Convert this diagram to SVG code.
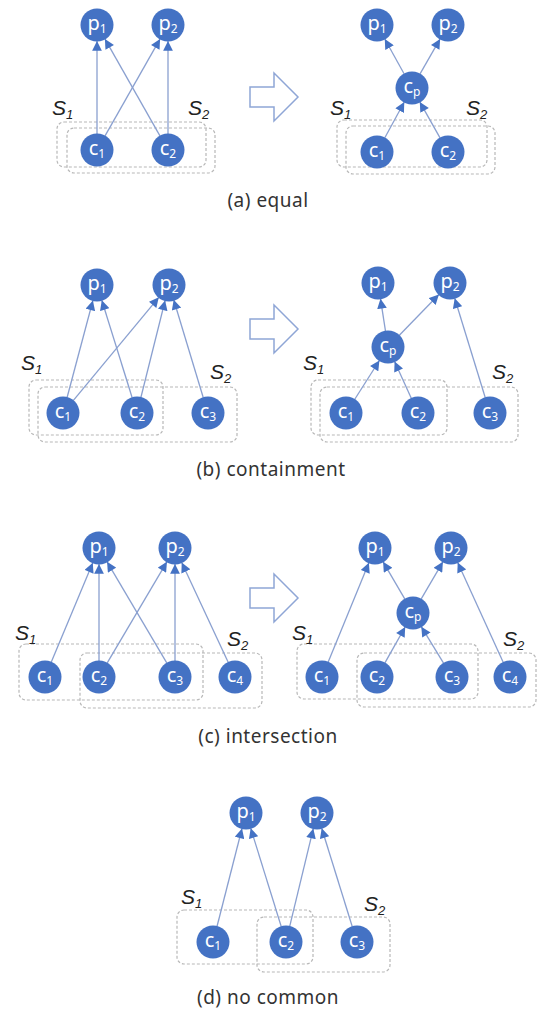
<svg xmlns="http://www.w3.org/2000/svg" width="538" height="1015" viewBox="0 0 538 1015">
  <style>
    .set { fill: none; stroke: #b8b8b8; stroke-width: 1.2; stroke-dasharray: 3 2; }
    .edge { stroke: #8aa0d0; stroke-width: 1.3; fill: none; marker-end: url(#tip); }
    .node circle { fill: #4472c4; }
    .node text { fill: #ffffff; font-family: "Noto Sans", "Open Sans", sans-serif; font-size: 20px; text-anchor: middle; }
    .node tspan { font-size: 12px; }
    .slabel { fill: #222222; font-family: "Liberation Sans", Arial, sans-serif; font-style: italic; font-size: 21px; }
    .slabel tspan { font-size: 13px; }
    .caption { fill: #333333; font-family: "Noto Sans", "Open Sans", sans-serif; font-size: 19px; letter-spacing: 0.5px; text-anchor: middle; }
    .step { fill: #ffffff; stroke: #8fa6d6; stroke-width: 1.5; stroke-linejoin: miter; }
  </style>
  <defs>
    <marker id="tip" viewBox="0 0 10 10" refX="10" refY="5" markerWidth="8" markerHeight="7.5" markerUnits="strokeWidth" orient="auto">
      <path d="M0,0 L10,5 L0,10 Z" fill="#4472c4"/>
    </marker>
  </defs>

  <!-- set outlines S1 / S2 -->
  <g id="sets">
    <rect class="set" x="57" y="122" width="149" height="45" rx="7"/>
    <rect class="set" x="67" y="128" width="148" height="45" rx="7"/>
    <rect class="set" x="337" y="120" width="150" height="47" rx="7"/>
    <rect class="set" x="346" y="126" width="149" height="48" rx="7"/>

    <rect class="set" x="29" y="380" width="134" height="55" rx="7"/>
    <rect class="set" x="38" y="387" width="199" height="55" rx="7"/>
    <rect class="set" x="311" y="380" width="136" height="55" rx="7"/>
    <rect class="set" x="320" y="387" width="198" height="55" rx="7"/>

    <rect class="set" x="19" y="644" width="184" height="56" rx="7"/>
    <rect class="set" x="80" y="653" width="182" height="55" rx="7"/>
    <rect class="set" x="297" y="644" width="181" height="55" rx="7"/>
    <rect class="set" x="357" y="653" width="179" height="54" rx="7"/>

    <rect class="set" x="177" y="910" width="136" height="54" rx="7"/>
    <rect class="set" x="257" y="917" width="133" height="55" rx="7"/>
  </g>

  <!-- set names -->
  <g id="set-labels">
    <text class="slabel" x="52" y="115">S<tspan dy="4">1</tspan></text>
    <text class="slabel" x="188" y="115">S<tspan dy="4">2</tspan></text>
    <text class="slabel" x="330" y="115">S<tspan dy="4">1</tspan></text>
    <text class="slabel" x="466" y="115">S<tspan dy="4">2</tspan></text>

    <text class="slabel" x="21" y="370">S<tspan dy="4">1</tspan></text>
    <text class="slabel" x="210" y="379">S<tspan dy="4">2</tspan></text>
    <text class="slabel" x="303" y="370">S<tspan dy="4">1</tspan></text>
    <text class="slabel" x="492" y="379">S<tspan dy="4">2</tspan></text>

    <text class="slabel" x="15" y="640">S<tspan dy="4">1</tspan></text>
    <text class="slabel" x="227" y="646">S<tspan dy="4">2</tspan></text>
    <text class="slabel" x="292" y="640">S<tspan dy="4">1</tspan></text>
    <text class="slabel" x="503" y="646">S<tspan dy="4">2</tspan></text>

    <text class="slabel" x="181" y="904">S<tspan dy="4">1</tspan></text>
    <text class="slabel" x="364" y="911">S<tspan dy="4">2</tspan></text>
  </g>

  <!-- transformation arrows -->
  <g id="steps">
    <path class="step" d="M250,87 H274 V73 L298,97 L274,121 V107 H250 Z"/>
    <path class="step" d="M250,319 H274 V305 L298,329 L274,353 V339 H250 Z"/>
    <path class="step" d="M250,588 H274 V574 L298,598 L274,622 V608 H250 Z"/>
  </g>

  <!-- connectors -->
  <g id="connectors">
    <!-- (a) before -->
    <line class="edge" x1="97" y1="134" x2="97" y2="41"/>
    <line class="edge" x1="104.9" y1="136.1" x2="160.1" y2="38.9"/>
    <line class="edge" x1="160.1" y1="136.1" x2="104.9" y2="38.9"/>
    <line class="edge" x1="168" y1="134" x2="168" y2="41"/>
    <!-- (a) after -->
    <line class="edge" x1="384.7" y1="138" x2="404.3" y2="102"/>
    <line class="edge" x1="440.2" y1="138.1" x2="419.8" y2="101.9"/>
    <line class="edge" x1="404.2" y1="74" x2="384.8" y2="39"/>
    <line class="edge" x1="419.9" y1="74.1" x2="440.1" y2="38.9"/>

    <!-- (b) before -->
    <line class="edge" x1="67.1" y1="397.5" x2="92.9" y2="300.5"/>
    <line class="edge" x1="73.2" y1="400.7" x2="158.8" y2="297.3"/>
    <line class="edge" x1="132.2" y1="397.7" x2="101.8" y2="300.3"/>
    <line class="edge" x1="140.9" y1="397.5" x2="165.1" y2="300.5"/>
    <line class="edge" x1="203.3" y1="397.7" x2="173.7" y2="299.7"/>
    <!-- (b) after -->
    <line class="edge" x1="354.6" y1="399.5" x2="379.4" y2="360.5"/>
    <line class="edge" x1="411.4" y1="398.4" x2="394.6" y2="361.6"/>
    <line class="edge" x1="385.5" y1="331.2" x2="380.5" y2="298.8"/>
    <line class="edge" x1="399.1" y1="335.5" x2="438.9" y2="294.5"/>
    <line class="edge" x1="485.3" y1="397.7" x2="454.7" y2="298.3"/>

    <!-- (c) before -->
    <line class="edge" x1="51.2" y1="662.2" x2="92.8" y2="562.8"/>
    <line class="edge" x1="99" y1="661" x2="99" y2="564"/>
    <line class="edge" x1="107.1" y1="663.2" x2="166.9" y2="561.8"/>
    <line class="edge" x1="166.9" y1="663.2" x2="107.1" y2="561.8"/>
    <line class="edge" x1="175" y1="661" x2="175" y2="564"/>
    <line class="edge" x1="228.3" y1="662.5" x2="181.7" y2="562.5"/>
    <!-- (c) after -->
    <line class="edge" x1="328.1" y1="662.2" x2="368.9" y2="562.8"/>
    <line class="edge" x1="404.9" y1="599.2" x2="383.1" y2="561.8"/>
    <line class="edge" x1="421.1" y1="599.2" x2="442.9" y2="561.8"/>
    <line class="edge" x1="384.8" y1="663.1" x2="405.2" y2="626.9"/>
    <line class="edge" x1="443.7" y1="663.3" x2="421.3" y2="626.7"/>
    <line class="edge" x1="503.3" y1="662.4" x2="457.7" y2="562.6"/>

    <!-- (d) -->
    <line class="edge" x1="217" y1="926.5" x2="242" y2="828.5"/>
    <line class="edge" x1="281.3" y1="926.7" x2="250.7" y2="828.3"/>
    <line class="edge" x1="289.7" y1="926.4" x2="313.3" y2="828.6"/>
    <line class="edge" x1="352.3" y1="926.7" x2="321.7" y2="828.3"/>
  </g>

  <!-- (a) equal -->
  <g id="a-p1" class="node"><circle cx="97" cy="25" r="16.5"/><text x="97" y="30">p<tspan dy="3">1</tspan></text></g>
  <g id="a-p2" class="node"><circle cx="168" cy="25" r="16.5"/><text x="168" y="30">p<tspan dy="3">2</tspan></text></g>
  <g id="a-c1" class="node"><circle cx="97" cy="150" r="16.5"/><text x="97" y="155">c<tspan dy="3">1</tspan></text></g>
  <g id="a-c2" class="node"><circle cx="168" cy="150" r="16.5"/><text x="168" y="155">c<tspan dy="3">2</tspan></text></g>
  <g id="a2-p1" class="node"><circle cx="377" cy="25" r="16.5"/><text x="377" y="30">p<tspan dy="3">1</tspan></text></g>
  <g id="a2-p2" class="node"><circle cx="448" cy="25" r="16.5"/><text x="448" y="30">p<tspan dy="3">2</tspan></text></g>
  <g id="a2-cp" class="node"><circle cx="412" cy="88" r="16.5"/><text x="412" y="93">c<tspan dy="3">p</tspan></text></g>
  <g id="a2-c1" class="node"><circle cx="377" cy="152" r="16.5"/><text x="377" y="157">c<tspan dy="3">1</tspan></text></g>
  <g id="a2-c2" class="node"><circle cx="448" cy="152" r="16.5"/><text x="448" y="157">c<tspan dy="3">2</tspan></text></g>

  <!-- (b) containment -->
  <g id="b-p1" class="node"><circle cx="97" cy="285" r="16.5"/><text x="97" y="290">p<tspan dy="3">1</tspan></text></g>
  <g id="b-p2" class="node"><circle cx="169" cy="285" r="16.5"/><text x="169" y="290">p<tspan dy="3">2</tspan></text></g>
  <g id="b-c1" class="node"><circle cx="63" cy="413" r="16.5"/><text x="63" y="418">c<tspan dy="3">1</tspan></text></g>
  <g id="b-c2" class="node"><circle cx="137" cy="413" r="16.5"/><text x="137" y="418">c<tspan dy="3">2</tspan></text></g>
  <g id="b-c3" class="node"><circle cx="208" cy="413" r="16.5"/><text x="208" y="418">c<tspan dy="3">3</tspan></text></g>
  <g id="b2-p1" class="node"><circle cx="378" cy="283" r="16.5"/><text x="378" y="288">p<tspan dy="3">1</tspan></text></g>
  <g id="b2-p2" class="node"><circle cx="450" cy="283" r="16.5"/><text x="450" y="288">p<tspan dy="3">2</tspan></text></g>
  <g id="b2-cp" class="node"><circle cx="388" cy="347" r="16.5"/><text x="388" y="352">c<tspan dy="3">p</tspan></text></g>
  <g id="b2-c1" class="node"><circle cx="346" cy="413" r="16.5"/><text x="346" y="418">c<tspan dy="3">1</tspan></text></g>
  <g id="b2-c2" class="node"><circle cx="418" cy="413" r="16.5"/><text x="418" y="418">c<tspan dy="3">2</tspan></text></g>
  <g id="b2-c3" class="node"><circle cx="490" cy="413" r="16.5"/><text x="490" y="418">c<tspan dy="3">3</tspan></text></g>

  <!-- (c) intersection -->
  <g id="c-p1" class="node"><circle cx="99" cy="548" r="16.5"/><text x="99" y="553">p<tspan dy="3">1</tspan></text></g>
  <g id="c-p2" class="node"><circle cx="175" cy="548" r="16.5"/><text x="175" y="553">p<tspan dy="3">2</tspan></text></g>
  <g id="c-c1" class="node"><circle cx="45" cy="677" r="16.5"/><text x="45" y="682">c<tspan dy="3">1</tspan></text></g>
  <g id="c-c2" class="node"><circle cx="99" cy="677" r="16.5"/><text x="99" y="682">c<tspan dy="3">2</tspan></text></g>
  <g id="c-c3" class="node"><circle cx="175" cy="677" r="16.5"/><text x="175" y="682">c<tspan dy="3">3</tspan></text></g>
  <g id="c-c4" class="node"><circle cx="235" cy="677" r="16.5"/><text x="235" y="682">c<tspan dy="3">4</tspan></text></g>
  <g id="c2-p1" class="node"><circle cx="375" cy="548" r="16.5"/><text x="375" y="553">p<tspan dy="3">1</tspan></text></g>
  <g id="c2-p2" class="node"><circle cx="451" cy="548" r="16.5"/><text x="451" y="553">p<tspan dy="3">2</tspan></text></g>
  <g id="c2-cp" class="node"><circle cx="413" cy="613" r="16.5"/><text x="413" y="618">c<tspan dy="3">p</tspan></text></g>
  <g id="c2-c1" class="node"><circle cx="322" cy="677" r="16.5"/><text x="322" y="682">c<tspan dy="3">1</tspan></text></g>
  <g id="c2-c2" class="node"><circle cx="377" cy="677" r="16.5"/><text x="377" y="682">c<tspan dy="3">2</tspan></text></g>
  <g id="c2-c3" class="node"><circle cx="452" cy="677" r="16.5"/><text x="452" y="682">c<tspan dy="3">3</tspan></text></g>
  <g id="c2-c4" class="node"><circle cx="510" cy="677" r="16.5"/><text x="510" y="682">c<tspan dy="3">4</tspan></text></g>

  <!-- (d) no common -->
  <g id="d-p1" class="node"><circle cx="246" cy="813" r="16.5"/><text x="246" y="818">p<tspan dy="3">1</tspan></text></g>
  <g id="d-p2" class="node"><circle cx="317" cy="813" r="16.5"/><text x="317" y="818">p<tspan dy="3">2</tspan></text></g>
  <g id="d-c1" class="node"><circle cx="213" cy="942" r="16.5"/><text x="213" y="947">c<tspan dy="3">1</tspan></text></g>
  <g id="d-c2" class="node"><circle cx="286" cy="942" r="16.5"/><text x="286" y="947">c<tspan dy="3">2</tspan></text></g>
  <g id="d-c3" class="node"><circle cx="357" cy="942" r="16.5"/><text x="357" y="947">c<tspan dy="3">3</tspan></text></g>

  <!-- captions -->
  <g id="captions">
    <text class="caption" x="268" y="207">(a)  equal</text>
    <text class="caption" x="271" y="476">(b)  containment</text>
    <text class="caption" x="268" y="743">(c)  intersection</text>
    <text class="caption" x="268" y="1004">(d)  no common</text>
  </g>
</svg>
